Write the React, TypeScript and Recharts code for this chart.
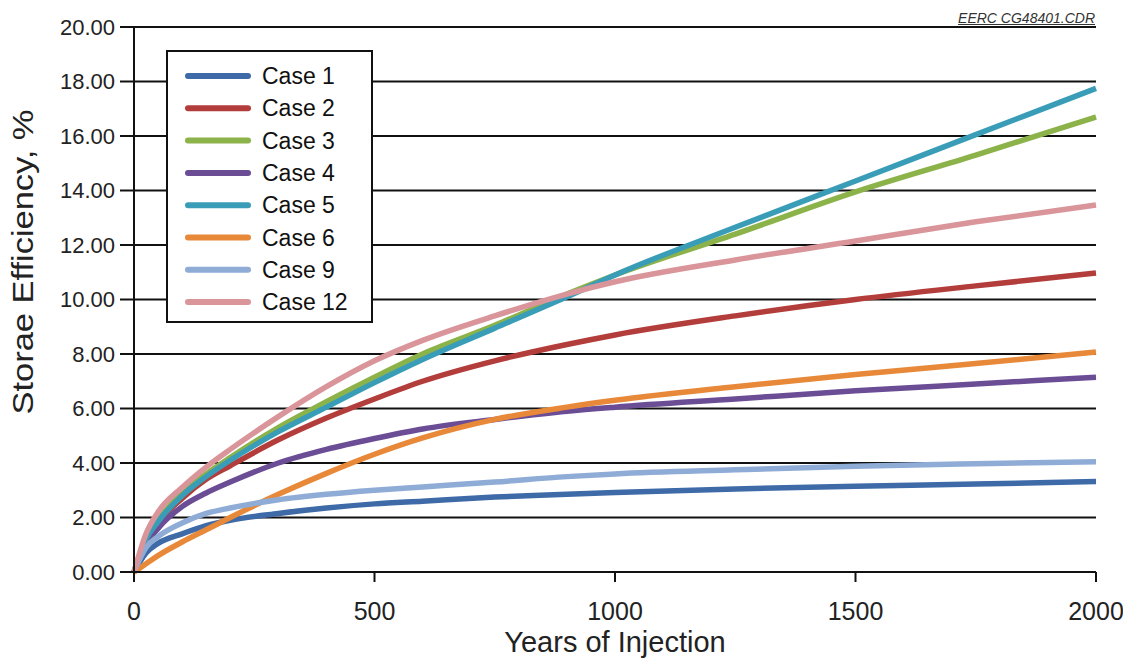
import React from "react";
import { LineChart, Line, XAxis, YAxis, CartesianGrid, Label } from "recharts";

const years = [0, 25, 50, 100, 150, 200, 300, 400, 500, 600, 750, 900, 1000, 1250, 1500, 1750, 2000];

const case1 = [0, 0.7, 1.05, 1.4, 1.7, 1.9, 2.15, 2.35, 2.5, 2.6, 2.75, 2.85, 2.92, 3.05, 3.15, 3.23, 3.32];
const case2 = [0, 1.1, 1.8, 2.7, 3.4, 3.9, 4.85, 5.65, 6.35, 7.0, 7.75, 8.35, 8.7, 9.4, 10.0, 10.5, 10.97];
const case3 = [0, 1.2, 1.9, 2.9, 3.6, 4.2, 5.3, 6.25, 7.15, 8.0, 9.05, 10.2, 10.9, 12.4, 13.95, 15.3, 16.7];
const case4 = [0, 1.0, 1.6, 2.4, 2.9, 3.3, 4.0, 4.5, 4.9, 5.25, 5.6, 5.9, 6.05, 6.35, 6.65, 6.9, 7.15];
const case5 = [0, 1.2, 1.85, 2.8, 3.5, 4.1, 5.15, 6.05, 6.95, 7.8, 8.95, 10.1, 10.9, 12.65, 14.35, 16.05, 17.75];
const case6 = [0, 0.3, 0.6, 1.1, 1.55, 2.0, 2.85, 3.62, 4.32, 4.92, 5.6, 6.05, 6.3, 6.8, 7.25, 7.65, 8.07];
const case9 = [0, 0.9, 1.3, 1.8, 2.15, 2.35, 2.65, 2.85, 3.0, 3.12, 3.3, 3.5, 3.6, 3.75, 3.88, 3.97, 4.05];
const case12 = [0, 1.4, 2.2, 3.1, 3.85, 4.5, 5.7, 6.8, 7.75, 8.5, 9.4, 10.2, 10.65, 11.45, 12.15, 12.85, 13.47];

const xTicks = [0, 500, 1000, 1500, 2000];
const yTicks = [0, 2, 4, 6, 8, 10, 12, 14, 16, 18, 20];

const series = [
  { key: "c1", name: "Case 1", values: case1, color: "#3e6aa8" },
  { key: "c2", name: "Case 2", values: case2, color: "#b23d3b" },
  { key: "c3", name: "Case 3", values: case3, color: "#8cb24a" },
  { key: "c4", name: "Case 4", values: case4, color: "#6b4d96" },
  { key: "c5", name: "Case 5", values: case5, color: "#3a9db8" },
  { key: "c6", name: "Case 6", values: case6, color: "#e8893a" },
  { key: "c9", name: "Case 9", values: case9, color: "#8facd6" },
  { key: "c12", name: "Case 12", values: case12, color: "#d9959a" },
];

const data = years.map((yr, i) => {
  const row: Record<string, number> = { yr };
  series.forEach((s) => (row[s.key] = s.values[i]));
  return row;
});

const font = "'Liberation Sans', Arial, sans-serif";

function LegendBox() {
  return (
    <div
      style={{
        position: "absolute",
        left: 166,
        top: 50,
        width: 203,
        height: 269,
        border: "2px solid #111",
        background: "#fff",
      }}
    >
      <svg width={203} height={269} style={{ display: "block" }}>
        {series.map((s, i) => {
          const y = 24 + i * 32.3;
          return (
            <g key={s.key}>
              <line x1={20} x2={80} y1={y} y2={y} stroke={s.color} strokeWidth={6} strokeLinecap="round" />
              <text x={94} y={y + 8} fontSize={23} fill="#111" fontFamily={font}>
                {s.name}
              </text>
            </g>
          );
        })}
      </svg>
    </div>
  );
}

export default function App() {
  return (
    <div style={{ position: "absolute", left: 0, top: 0, width: 1123, height: 663, background: "#fff" }}>
      <LineChart width={1123} height={663} data={data} margin={{ top: 27, right: 27, left: 0, bottom: 0 }}>
        <CartesianGrid vertical={false} stroke="#111" strokeWidth={2} />
        <XAxis
          dataKey="yr"
          type="number"
          domain={[0, 2000]}
          ticks={xTicks}
          height={91}
          tickSize={10}
          tickMargin={20}
          stroke="#111"
          strokeWidth={2}
          tick={{ fontSize: 25, fill: "#222", fontFamily: font }}
        >
          <Label
            content={() => (
              <text x={615} y={652} textAnchor="middle" fontSize={29} fill="#222" fontFamily={font}>
                Years of Injection
              </text>
            )}
          />
        </XAxis>
        <YAxis
          type="number"
          domain={[0, 20]}
          ticks={yTicks}
          width={134}
          tickSize={14}
          tickMargin={5}
          stroke="#111"
          strokeWidth={2}
          tickFormatter={(v: number) => v.toFixed(2)}
          tick={{ fontSize: 22, fill: "#222", fontFamily: font }}
        >
          <Label
            content={() => (
              <text
                x={33}
                y={262}
                transform="rotate(-90, 33, 262)"
                textAnchor="middle"
                fontSize={30}
                textLength={305}
                lengthAdjust="spacingAndGlyphs"
                fill="#222"
                fontFamily={font}
              >
                Storae Efficiency, %
              </text>
            )}
          />
        </YAxis>
        {series.map((s) => (
          <Line
            key={s.key}
            dataKey={s.key}
            name={s.name}
            type="monotone"
            stroke={s.color}
            strokeWidth={5.5}
            dot={false}
            isAnimationActive={false}
          />
        ))}
      </LineChart>
      <LegendBox />
      <div
        style={{
          position: "absolute",
          right: 1123 - 1095,
          top: 10,
          fontFamily: font,
          fontSize: 14,
          fontStyle: "italic",
          textDecoration: "underline",
          color: "#333",
        }}
      >
        EERC CG48401.CDR
      </div>
    </div>
  );
}
